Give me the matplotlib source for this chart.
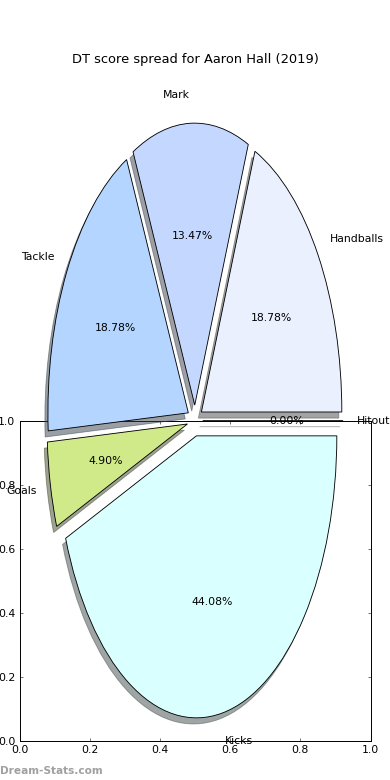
import matplotlib
matplotlib.use('Agg')
import matplotlib.pyplot as plt

plt.rcParams['font.family'] = ['DejaVu Sans']

# ---- data (DT points per stat category, Aaron Hall 2019) ----
categories = ['Hitout', 'Handballs', 'Mark', 'Tackle', 'Goals', 'Kicks']
dt_points = [0, 92, 66, 92, 24, 216]
slice_colors = ['#ffffff', '#eaf0fe', '#c4d8ff', '#b3d5ff', '#d0ea8a', '#daffff']
explode = [0.055, 0.055, 0.055, 0.055, 0.055, 0.055]
title = 'DT score spread for Aaron Hall (2019)'
frame_ticks = [0.0, 0.2, 0.4, 0.6, 0.8, 1.0]
watermark = 'Dream-Stats.com'

fig = plt.figure(figsize=(5, 10), dpi=78)

# background frame axes (0..1 box)
frame_ax = fig.add_axes([0.05, 0.05, 0.9, 0.41])
frame_ax.set_xlim(0, 1)
frame_ax.set_ylim(0, 1)
frame_ax.set_xticks(frame_ticks)
frame_ax.set_yticks(frame_ticks)
frame_ax.set_xticklabels([f'{t:.1f}' for t in frame_ticks])
frame_ax.set_yticklabels([f'{t:.1f}' for t in frame_ticks])
frame_ax.tick_params(direction='in', length=3, width=0.5, top=True, right=True,
                     labelsize=10, pad=4)
for s in frame_ax.spines.values():
    s.set_linewidth(0.9)

# pie axes on top, transparent
pie_ax = fig.add_axes([0.05, 0.00885, 0.9, 0.9038])
pie_ax.patch.set_visible(False)
wedges, texts, autotexts = pie_ax.pie(
    dt_points, labels=categories, colors=slice_colors, explode=explode,
    autopct='%.2f%%', shadow=True, startangle=0,
    wedgeprops=dict(edgecolor='black', linewidth=0.8),
    textprops=dict(fontsize=10, color='black'))
pie_ax.set_aspect('auto')
pie_ax.set_xlim(-1.25, 1.25)
pie_ax.set_ylim(-1.25, 1.25)
pie_ax.axis('off')
pie_ax.set_title(title, fontsize=12, pad=5)

fig.text(0.0, 1 - 770.5 / 780, watermark, fontsize=9.7, fontweight='bold',
         color='#a0a0a0', ha='left', va='center')

fig.savefig('out.png', dpi=78)
